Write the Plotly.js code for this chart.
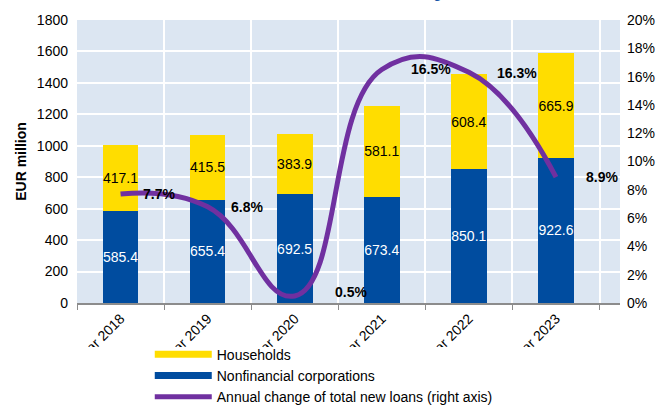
<!DOCTYPE html>
<html>
<head>
<meta charset="utf-8">
<script src="https://cdn.plot.ly/plotly-3.0.1.min.js"></script>
<style>
  html, body { margin: 0; padding: 0; background: #ffffff; }
  #chart { width: 665px; height: 405px; }
</style>
</head>
<body>
<div id="chart"></div>
<script>
// ---- data ----
const categories = ["Year 2018", "Year 2019", "Year 2020", "Year 2021", "Year 2022", "Year 2023"];
const nonfinancial = [585.4, 655.4, 692.5, 673.4, 850.1, 922.6];
const households = [417.1, 415.5, 383.9, 581.1, 608.4, 665.9];
const annualChange = [7.7, 6.8, 0.5, 16.5, 16.3, 8.9];
const titleText = "New loans, EUR million and annual growth";

// ---- styles ----
const FONT = "Liberation Sans, Arial, sans-serif";
const BLUE = "#004c9f";
const YELLOW = "#ffdd00";
const PURPLE = "#7030a0";
const labelDx = [38, 39, 56, 49, 48, 46];
const labelDy = [0, 0, 4, 1, -1, 0];

const traces = [
  {
    type: "bar", x: categories, y: nonfinancial, name: "Nonfinancial corporations",
    marker: { color: BLUE }, showlegend: false,
    text: nonfinancial.map(v => v.toFixed(1)), textposition: "inside",
    insidetextanchor: "middle", textangle: 0, constraintext: "none",
    textfont: { family: FONT, size: 14, color: "#ffffff" }, hoverinfo: "skip"
  },
  {
    type: "bar", x: categories, y: households, name: "Households",
    marker: { color: YELLOW }, showlegend: false,
    text: households.map(v => v.toFixed(1)), textposition: "inside",
    insidetextanchor: "middle", textangle: 0, constraintext: "none",
    textfont: { family: FONT, size: 14, color: "#000000" }, hoverinfo: "skip"
  },
  {
    type: "scatter", mode: "lines", x: categories, y: annualChange, yaxis: "y2",
    name: "Annual change of total new loans (right axis)",
    line: { color: PURPLE, width: 5, shape: "spline", smoothing: 1.3 },
    legendrank: 3
  },
  {
    type: "scatter", mode: "lines", x: [categories[0]], y: [null], name: "Households",
    line: { color: YELLOW, width: 7 }, legendrank: 1, hoverinfo: "skip"
  },
  {
    type: "scatter", mode: "lines", x: [categories[0]], y: [null], name: "Nonfinancial corporations",
    line: { color: BLUE, width: 7 }, legendrank: 2, hoverinfo: "skip"
  }
];

const annotations = annualChange.map((v, i) => ({
  x: categories[i], y: v, xref: "x", yref: "y2",
  text: v.toFixed(1) + "%", showarrow: false,
  xanchor: "center", yanchor: "middle",
  xshift: labelDx[i], yshift: labelDy[i],
  font: { family: FONT, size: 14, color: "#000000", weight: "bold" }
}));
annotations.push({
  text: titleText, xref: "paper", yref: "paper", x: 0.212, y: 1,
  xanchor: "left", yanchor: "bottom", yshift: 17, showarrow: false,
  font: { family: FONT, size: 15, color: "#1a56a8" }
});

const layout = {
  width: 665, height: 405,
  margin: { l: 77, r: 45, t: 20, b: 102, autoexpand: false },
  paper_bgcolor: "#ffffff",
  plot_bgcolor: "#dce6f2",
  font: { family: FONT, size: 14, color: "#000000" },
  barmode: "stack",
  bargap: 0.59,
  showlegend: true,
  legend: {
    orientation: "v", x: 0.134, xanchor: "left", y: -0.126, yanchor: "top",
    itemwidth: 57,
    font: { family: FONT, size: 14, color: "#000000" },
    bgcolor: "rgba(0,0,0,0)", traceorder: "normal", tracegroupgap: 0
  },
  xaxis: {
    type: "category", tickson: "boundaries",
    showgrid: true, gridcolor: "#ffffff", gridwidth: 2,
    showline: true, linecolor: "#8c8c8c", linewidth: 2,
    ticks: "outside", ticklen: 5, tickcolor: "#8c8c8c", tickwidth: 1,
    tickangle: -45, tickfont: { family: FONT, size: 14, color: "#000000" },
    automargin: false, fixedrange: true
  },
  yaxis: {
    range: [0, 1800], dtick: 200, tick0: 0,
    showgrid: true, gridcolor: "#ffffff", gridwidth: 2,
    zeroline: false, showline: false, ticks: "",
    tickfont: { family: FONT, size: 14, color: "#000000" },
    ticklabelstandoff: 8,
    title: { text: "EUR million", font: { family: FONT, size: 14, color: "#000000", weight: "bold" }, standoff: 6 },
    automargin: false, fixedrange: true
  },
  yaxis2: {
    overlaying: "y", side: "right", range: [0, 20], dtick: 2, tick0: 0,
    ticksuffix: "%", showgrid: false, zeroline: false, showline: false, ticks: "",
    tickfont: { family: FONT, size: 14, color: "#000000" },
    ticklabelstandoff: 6,
    automargin: false, fixedrange: true
  },
  shapes: [{
    type: "rect", xref: "paper", yref: "paper", layer: "above",
    x0: -0.2, x1: 1.2, y0: -0.6, y1: -0.1555,
    fillcolor: "#ffffff", line: { width: 0 }
  }],
  annotations: annotations
};

Plotly.newPlot("chart", traces, layout, { displayModeBar: false, staticPlot: true });
</script>
</body>
</html>
